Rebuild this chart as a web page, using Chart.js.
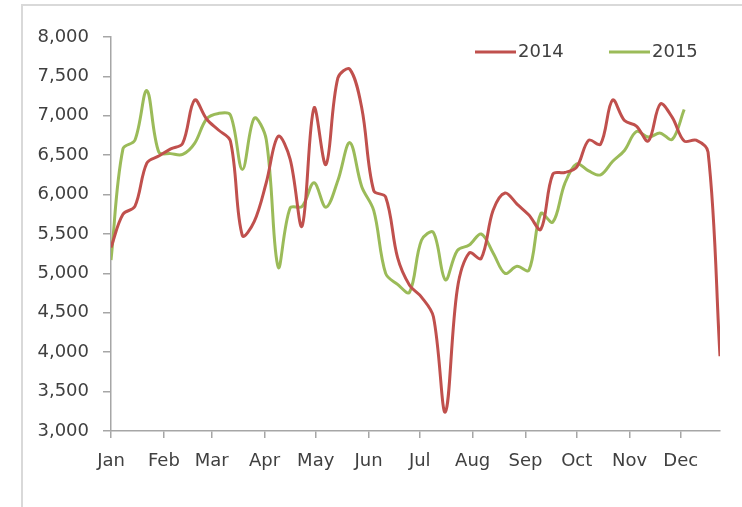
<!DOCTYPE html>
<html>
<head>
<meta charset="utf-8">
<script src="https://cdn.jsdelivr.net/npm/chart.js@4/dist/chart.umd.min.js"></script>
<style>
  html, body { margin: 0; padding: 0; background: #ffffff; }
  #wrap { position: relative; width: 742px; height: 507px; overflow: hidden; }
  #frame { position: absolute; left: 21px; top: 4px; width: 740px; height: 520px;
           border-top: 2px solid #d9d9d9; border-left: 2px solid #d9d9d9; pointer-events: none; }
  canvas { position: absolute; left: 0; top: 0; }
</style>
</head>
<body>
<div id="wrap">
  <canvas id="c" width="742" height="507"></canvas>
  <div id="frame"></div>
</div>
<script>
// ---- data (weekly values) ----
const seriesNames = ["2014", "2015"];
const monthLabels = ["Jan","Feb","Mar","Apr","May","Jun","Jul","Aug","Sep","Oct","Nov","Dec"];
const monthStartDays = [0,31,59,90,120,151,181,212,243,273,304,334];
const daysPerWeek = 7;
const axisEndDay = 357;

const values2014 = [5330,5750,5850,6400,6490,6580,6650,7200,6960,6820,
                    6680,5480,5660,6150,6740,6450,5600,7100,6380,7480,
                    7590,7100,6050,5970,5200,4850,4700,4450,3240,4800,
                    5260,5190,5800,6020,5880,5740,5560,6260,6280,6350,
                    6690,6640,7200,6940,6870,6680,7150,6980,6680,6690,
                    6540,3950];
const values2015 = [5170,6580,6690,7320,6540,6520,6510,6650,6960,7030,
                    7010,6320,6970,6700,5080,5830,5850,6150,5840,6180,
                    6660,6100,5800,5000,4860,4760,5420,5520,4920,5290,
                    5360,5500,5260,5000,5090,5040,5760,5650,6140,6390,
                    6300,6250,6420,6560,6800,6730,6780,6700,7080];
const yMin = 3000, yMax = 8000, yStep = 500;

const colors = ["#c0504d", "#9bbb59"];
const toPoints = arr => arr.map((v, i) => ({ x: i * daysPerWeek, y: v }));

const FONT = "'DejaVu Sans', sans-serif";
const TEXT = "#404040";
const AXIS = "#a6a6a6";

const legendPlugin = {
  id: "customLegend",
  afterDraw(chart) {
    const ctx = chart.ctx;
    const items = [{ x1: 475, x2: 516, tx: 518 }, { x1: 609, x2: 650, tx: 652 }];
    const y = 52;
    ctx.save();
    chart.data.datasets.forEach((ds, i) => {
      const it = items[i];
      ctx.strokeStyle = ds.borderColor;
      ctx.lineWidth = 3;
      ctx.beginPath();
      ctx.moveTo(it.x1, y);
      ctx.lineTo(it.x2, y);
      ctx.stroke();
      ctx.fillStyle = TEXT;
      ctx.font = "18px " + FONT;
      ctx.textBaseline = "middle";
      ctx.textAlign = "left";
      ctx.fillText(ds.label, it.tx, y);
    });
    ctx.restore();
  }
};

new Chart(document.getElementById("c"), {
  type: "line",
  data: {
    datasets: [
      { label: seriesNames[0], data: toPoints(values2014), borderColor: colors[0], backgroundColor: colors[0],
        borderWidth: 3, pointRadius: 0, tension: 0.35, fill: false },
      { label: seriesNames[1], data: toPoints(values2015), borderColor: colors[1], backgroundColor: colors[1],
        borderWidth: 3, pointRadius: 0, tension: 0.35, fill: false }
    ]
  },
  options: {
    responsive: false,
    animation: false,
    events: [],
    layout: { padding: { left: 0, right: 22, top: 37, bottom: 0 } },
    plugins: { legend: { display: false }, tooltip: { enabled: false } },
    scales: {
      x: {
        type: "linear",
        min: 0,
        max: axisEndDay,
        afterBuildTicks: s => { s.ticks = monthStartDays.map(v => ({ value: v })); },
        afterFit: s => { s.height = 76; },
        ticks: {
          autoSkip: false,
          maxRotation: 0,
          padding: 13,
          color: TEXT,
          font: { family: FONT, size: 18 },
          callback: (v) => { const i = monthStartDays.indexOf(v); return i >= 0 ? monthLabels[i] : ""; }
        },
        grid: { display: true, drawOnChartArea: false, drawTicks: true, tickLength: 7, color: AXIS, lineWidth: 1.5 },
        border: { display: true, color: AXIS, width: 1.5 }
      },
      y: {
        min: yMin,
        max: yMax,
        afterFit: s => { s.width = 111; },
        ticks: {
          stepSize: yStep,
          padding: 14,
          color: TEXT,
          font: { family: FONT, size: 18 },
          callback: v => v.toLocaleString("en-US")
        },
        grid: { display: true, drawOnChartArea: false, drawTicks: true, tickLength: 8, color: AXIS, lineWidth: 1.5 },
        border: { display: true, color: AXIS, width: 1.5 }
      }
    }
  },
  plugins: [legendPlugin]
});
</script>
</body>
</html>
